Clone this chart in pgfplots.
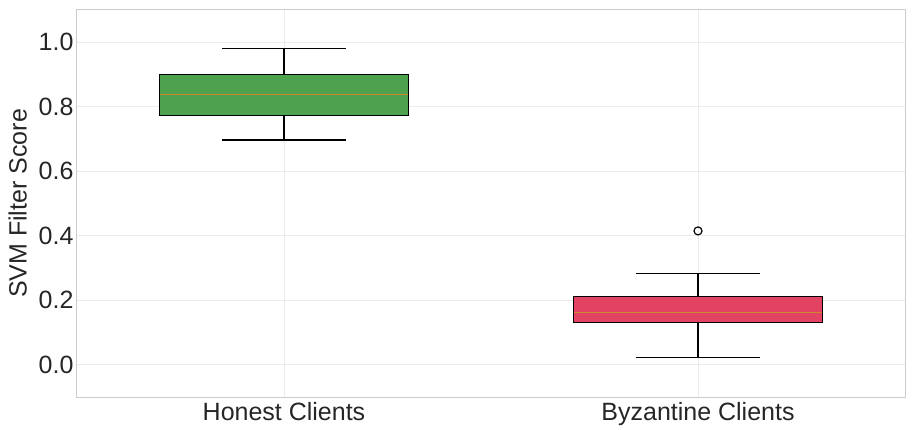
\documentclass[border=0pt]{standalone}
\usepackage{pgfplots}
\pgfplotsset{compat=1.18}
\usepgfplotslibrary{statistics}
\usepackage{fontspec}
\setmainfont{Liberation Sans}
\definecolor{honest}{RGB}{78,162,78}
\definecolor{byz}{RGB}{227,67,99}
\definecolor{medc}{RGB}{205,135,45}
\definecolor{gridc}{RGB}{235,235,235}
\definecolor{framec}{RGB}{204,204,204}
\definecolor{txt}{RGB}{38,38,38}
\begin{document}
\begin{tikzpicture}
\begin{axis}[
  scale only axis,
  width=828pt, height=387pt,
  xmin=0.5, xmax=2.5, ymin=-0.1, ymax=1.1,
  xtick={1,2}, xticklabels={Honest Clients, Byzantine Clients},
  ytick={0,0.2,0.4,0.6,0.8,1.0},
  yticklabel style={/pgf/number format/.cd,fixed,fixed zerofill,precision=1},
  /pgf/number format/assume math mode=true,
  grid=major, major grid style={gridc, line width=0.8pt},
  axis line style={framec, line width=1pt},
  major tick length=0pt,
  tick label style={font=\fontsize{25}{30}\selectfont, text=txt},
  ylabel={SVM Filter Score},
  ylabel style={font=\fontsize{25}{30}\selectfont, text=txt},
  ylabel shift=5pt,
  xticklabel style={yshift=-2pt},
  boxplot/draw direction=y,
  boxplot/every median/.style={draw=medc, line width=1.2pt},
]
\addplot[fill=honest, draw=black, line width=1.2pt,
  boxplot prepared={median=0.839, upper quartile=0.901, lower quartile=0.774,
    upper whisker=0.980, lower whisker=0.697, draw position=1,
    box extend=0.6, whisker extend=0.3}] coordinates {};
\addplot[fill=byz, draw=black, line width=1.2pt, mark=o, mark size=4pt, mark options={line width=1.2pt, fill=white},
  boxplot prepared={median=0.161, upper quartile=0.211, lower quartile=0.130,
    upper whisker=0.282, lower whisker=0.022, draw position=2,
    box extend=0.6, whisker extend=0.3}] coordinates {(2,0.415)};
\end{axis}
\pgfresetboundingbox
\path (-77pt,-32pt) rectangle (841pt,397pt);
\end{tikzpicture}
\end{document}
